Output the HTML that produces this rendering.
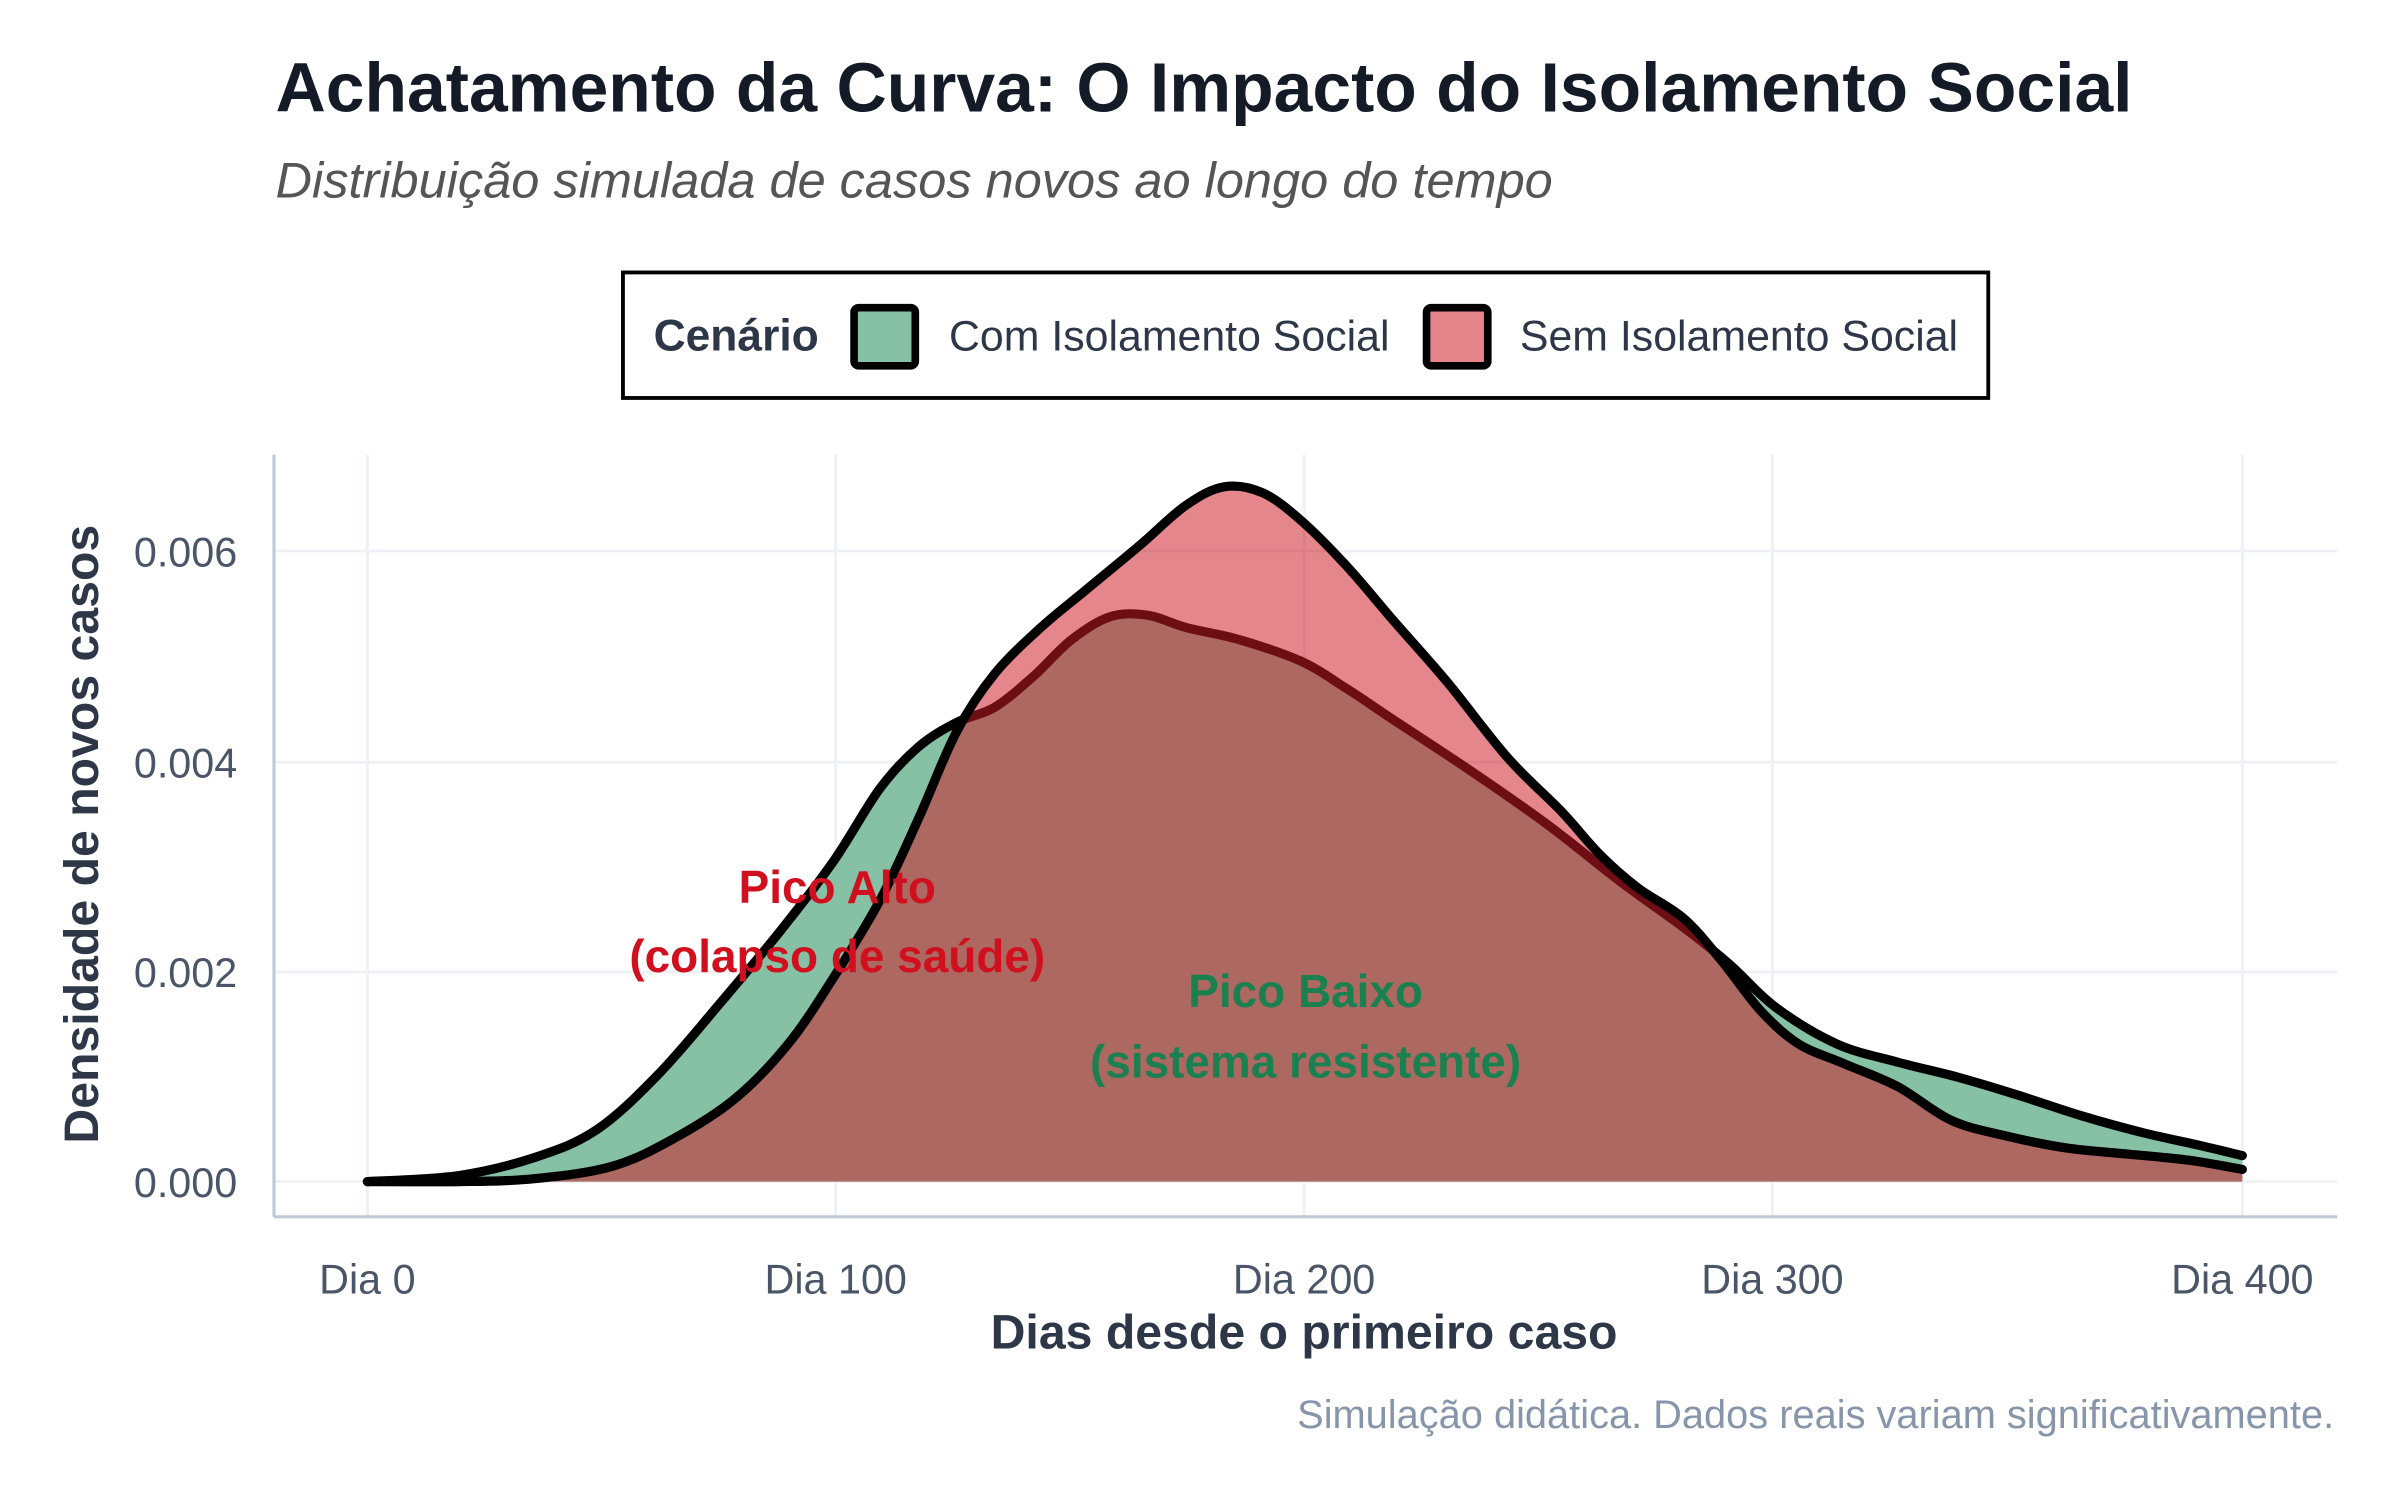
<!DOCTYPE html>
<html><head><meta charset="utf-8"><style>html,body{margin:0;padding:0;background:#fff}svg{display:block}</style></head>
<body>
<svg width="2400" height="1500" viewBox="0 0 1568 980" xmlns="http://www.w3.org/2000/svg" font-family="Liberation Sans, sans-serif">
<rect width="1568" height="980" fill="#fff"/>
<text x="180" y="73" font-size="45.5" font-weight="bold" fill="#141a26">Achatamento da Curva: O Impacto do Isolamento Social</text>
<text x="180" y="129" font-size="33" font-style="italic" fill="#555">Distribuição simulada de casos novos ao longo do tempo</text>
<rect x="407" y="178" width="892" height="82" fill="#fff" stroke="#000" stroke-width="2.5"/>
<text x="427" y="229" font-size="29" font-weight="bold" fill="#2d3748">Cenário</text>
<rect x="558" y="201" width="40" height="38" rx="3" fill="#86c1a5" stroke="#000" stroke-width="5"/>
<text x="620" y="229" font-size="28" fill="#2d3748">Com Isolamento Social</text>
<rect x="932" y="201" width="40" height="38" rx="3" fill="#e5848b" stroke="#000" stroke-width="5"/>
<text x="993" y="229" font-size="28" fill="#2d3748">Sem Isolamento Social</text>
<g stroke="#eef1f5" stroke-width="2">
<line x1="240" y1="297" x2="240" y2="795"/><line x1="546" y1="297" x2="546" y2="795"/><line x1="852" y1="297" x2="852" y2="795"/><line x1="1158" y1="297" x2="1158" y2="795"/><line x1="1465" y1="297" x2="1465" y2="795"/>
<line x1="179" y1="772" x2="1527" y2="772"/><line x1="179" y1="635" x2="1527" y2="635"/><line x1="179" y1="498" x2="1527" y2="498"/><line x1="179" y1="360" x2="1527" y2="360"/>
</g>
<g stroke="#c0c8d6" stroke-width="2"><line x1="179" y1="297" x2="179" y2="795"/><line x1="179" y1="795" x2="1527" y2="795"/></g>
<g stroke-linejoin="round" stroke-linecap="round">
<path id="gf" fill="#86c1a5" stroke="none"/>
<path id="gl" fill="none" stroke="#000" stroke-width="6"/>
<path id="rf" fill="rgb(206,25,38)" fill-opacity="0.53" stroke="none"/>
<path id="rl" fill="none" stroke="#000" stroke-width="6"/>
</g>
<g font-size="30" font-weight="bold" text-anchor="middle">
<text x="547" y="590" fill="#d0101e">Pico Alto</text>
<text x="547" y="635" fill="#d0101e">(colapso de saúde)</text>
<text x="853" y="658" fill="#1a8050">Pico Baixo</text>
<text x="853" y="704" fill="#1a8050">(sistema resistente)</text>
</g>
<g font-size="27" fill="#4a5568" text-anchor="end">
<text x="155" y="782">0.000</text><text x="155" y="645">0.002</text><text x="155" y="508">0.004</text><text x="155" y="370">0.006</text>
</g>
<g font-size="27" fill="#4a5568" text-anchor="middle">
<text x="240" y="845">Dia 0</text><text x="546" y="845">Dia 100</text><text x="852" y="845">Dia 200</text><text x="1158" y="845">Dia 300</text><text x="1465" y="845">Dia 400</text>
</g>
<text x="852" y="881" font-size="31.5" font-weight="bold" fill="#2d3748" text-anchor="middle">Dias desde o primeiro caso</text>
<text transform="translate(64,545) rotate(-90)" font-size="31.5" font-weight="bold" fill="#2d3748" text-anchor="middle">Densidade de novos casos</text>
<text x="1525" y="933" font-size="26" fill="#8795ab" text-anchor="end">Simulação didática. Dados reais variam significativamente.</text>
</svg>
<script>
function smooth(p){var d="M"+p[0][0]+","+p[0][1];for(var i=0;i<p.length-1;i++){var a=p[i-1]||p[i],b=p[i],c=p[i+1],e=p[i+2]||c;
var c1x=b[0]+(c[0]-a[0])/6,c1y=b[1]+(c[1]-a[1])/6,c2x=c[0]-(e[0]-b[0])/6,c2y=c[1]-(e[1]-b[1])/6;
d+=" C"+c1x.toFixed(1)+","+c1y.toFixed(1)+" "+c2x.toFixed(1)+","+c2y.toFixed(1)+" "+c[0]+","+c[1];}return d;}
var g=[[240,772],[300,768],[350,756],[390,738],[430,702],[470,656],[510,608],[545,562],[575,515],[600,488],[625,472],[650,462],[675,442],[700,418],[725,403],[750,402],[775,410],[810,418],[850,432],[880,450],[910,470],[960,503],[1010,538],[1060,577],[1100,606],[1130,630],[1160,658],[1200,682],[1240,694],[1280,704],[1320,716],[1360,729],[1400,740],[1440,749],[1465,755]];
var r=[[240,772],[300,772],[350,770],[400,762],[440,744],[480,718],[515,682],[545,638],[575,588],[600,535],[625,478],[650,440],[680,410],[710,385],[745,356],[775,330],[800,318],[825,322],[850,340],[880,370],[910,405],[945,445],[985,495],[1020,530],[1045,558],[1070,580],[1100,600],[1125,628],[1150,660],[1175,682],[1205,695],[1240,710],[1275,732],[1310,742],[1350,750],[1390,754],[1430,758],[1465,764]];
var gd=smooth(g),rd=smooth(r);
document.getElementById("gl").setAttribute("d",gd);
document.getElementById("gf").setAttribute("d",gd+" L1465,772 Z");
document.getElementById("rl").setAttribute("d",rd);
document.getElementById("rf").setAttribute("d",rd+" L1465,772 Z");
</script>
</body></html>
